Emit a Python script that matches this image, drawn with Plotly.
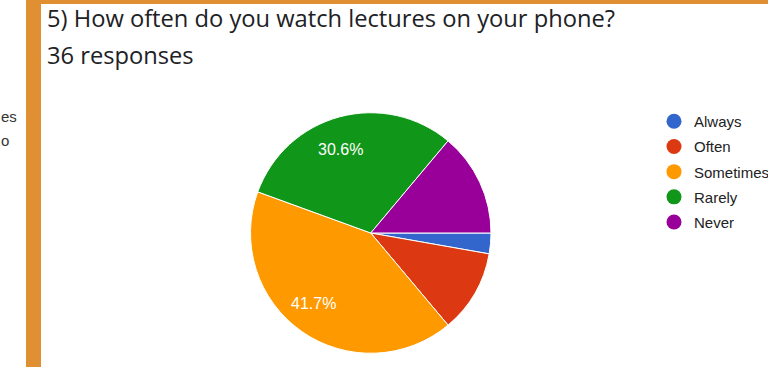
import math
import plotly.graph_objects as go

W, H = 768, 367

categories = ["Always", "Often", "Sometimes", "Rarely", "Never"]
counts = [1, 4, 15, 11, 5]
colors = ["#3366cc", "#dc3912", "#ff9900", "#109618", "#990099"]
show_label = [False, False, True, True, False]
title_text = "5) How often do you watch lectures on your phone?"
subtitle_text = "36 responses"
left_fragments = ["es", "o"]


def px_x(v):
    return v / W


def px_y(v):
    return 1 - v / H


# pie placement (pixels)
dom_x = (250.5, 491.0)
dom_y = (112.5, 353.5)
cx = (dom_x[0] + dom_x[1]) / 2
cy = (dom_y[0] + dom_y[1]) / 2
R = min(dom_x[1] - dom_x[0], dom_y[1] - dom_y[0]) / 2
label_r = 0.72
label_dx = -8

fig = go.Figure()

fig.add_trace(go.Pie(
    labels=categories,
    values=counts,
    sort=False,
    direction="clockwise",
    rotation=90,
    marker=dict(colors=colors, line=dict(color="white", width=1)),
    textinfo="none",
    hoverinfo="label+percent",
    showlegend=False,
    domain=dict(x=[px_x(dom_x[0]), px_x(dom_x[1])], y=[px_y(dom_y[1]), px_y(dom_y[0])]),
))

for name, col in zip(categories, colors):
    fig.add_trace(go.Scatter(
        x=[None], y=[None], mode="markers", name=name,
        legendgroup=name,
        marker=dict(symbol="circle", size=15, color=col),
        showlegend=True,
    ))

fig.update_xaxes(visible=False)
fig.update_yaxes(visible=False)

shapes = [
    dict(type="rect", xref="paper", yref="paper", x0=px_x(26), x1=px_x(41), y0=0, y1=1,
         fillcolor="#e08f33", line=dict(width=0), layer="above"),
    dict(type="rect", xref="paper", yref="paper", x0=px_x(26), x1=1, y0=px_y(4), y1=1,
         fillcolor="#e08f33", line=dict(width=0), layer="above"),
]

annotations = [
    dict(text=title_text, xref="paper", yref="paper", x=px_x(45), y=px_y(18),
         xanchor="left", yanchor="middle", showarrow=False,
         font=dict(family="Open Sans", size=23.7, color="#202124")),
    dict(text=subtitle_text, xref="paper", yref="paper", x=px_x(45), y=px_y(55),
         xanchor="left", yanchor="middle", showarrow=False,
         font=dict(family="Open Sans", size=23.7, color="#202124")),
    dict(text=left_fragments[0], xref="paper", yref="paper", x=0, y=px_y(117),
         xanchor="left", yanchor="middle", showarrow=False, borderpad=0,
         font=dict(family="Liberation Sans, Arial", size=15, color="#333333")),
    dict(text=left_fragments[1], xref="paper", yref="paper", x=0, y=px_y(140),
         xanchor="left", yanchor="middle", showarrow=False, borderpad=0,
         font=dict(family="Liberation Sans, Arial", size=15, color="#333333")),
]

# percentage labels placed at slice mid-angles (clockwise from 3 o'clock)
total = sum(counts)
cum = 0
for v, show in zip(counts, show_label):
    mid = 2 * math.pi * (cum + v / 2) / total
    cum += v
    if not show:
        continue
    lx = cx + label_r * R * math.cos(mid) + label_dx
    ly = cy + label_r * R * math.sin(mid)
    annotations.append(dict(
        text=f"{100 * v / total:.1f}%", xref="paper", yref="paper",
        x=px_x(lx), y=px_y(ly), xanchor="center", yanchor="middle", showarrow=False,
        font=dict(family="Liberation Sans, Arial", size=16, color="white"),
    ))

fig.update_layout(
    width=W, height=H,
    margin=dict(l=0, r=0, t=0, b=0, autoexpand=False),
    paper_bgcolor="white",
    plot_bgcolor="white",
    shapes=shapes,
    annotations=annotations,
    showlegend=True,
    legend=dict(
        x=px_x(654), y=px_y(105), xanchor="left", yanchor="top",
        font=dict(family="Liberation Sans, Arial", size=15, color="#222222"),
        tracegroupgap=2.7, bgcolor="rgba(0,0,0,0)", borderwidth=0,
        itemclick=False, itemdoubleclick=False,
    ),
)

fig.write_html("out.html")
